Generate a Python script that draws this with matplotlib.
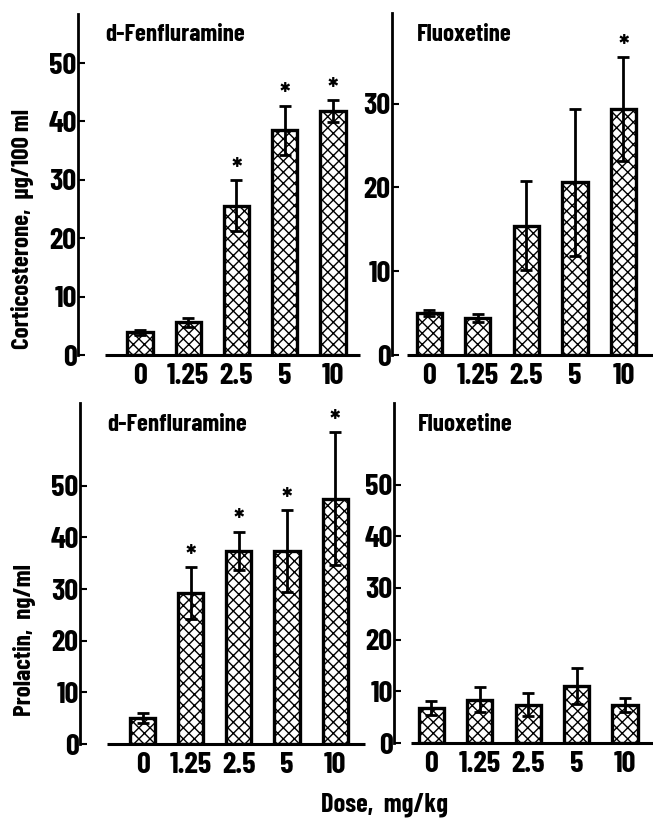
import matplotlib
matplotlib.use("Agg")
import matplotlib.pyplot as plt

plt.rcParams['font.family'] = ['Barlow Condensed', 'Archivo Narrow', 'DejaVu Sans']
plt.rcParams['font.weight'] = 'bold'
plt.rcParams['hatch.linewidth'] = 1.0

doses = ["0", "1.25", "2.5", "5", "10"]

cort_fen = [3.9, 5.6, 25.6, 38.5, 41.8]
cort_fen_err = [0.4, 0.8, 4.4, 4.2, 1.9]
cort_fen_sig = [False, False, True, True, True]

cort_flx = [5.0, 4.4, 15.4, 20.6, 29.3]
cort_flx_err = [0.4, 0.5, 5.3, 8.8, 6.2]
cort_flx_sig = [False, False, False, False, True]

prl_fen = [5.0, 29.2, 37.4, 37.4, 47.5]
prl_fen_err = [1.0, 5.0, 3.7, 7.9, 12.9]
prl_fen_sig = [False, True, True, True, True]

prl_flx = [6.8, 8.4, 7.4, 11.1, 7.4]
prl_flx_err = [1.4, 2.4, 2.2, 3.5, 1.4]
prl_flx_sig = [False, False, False, False, False]

W, H = 653, 821
fig = plt.figure(figsize=(W / 100, H / 100), dpi=100)

def px_axes(x0, x1, ytop, ybot):
    return fig.add_axes([x0 / W, 1 - ybot / H, (x1 - x0) / W, (ybot - ytop) / H])

def panel(ax, vals, errs, sig, title, ymax, yticks, xlim, xline_start, title_xy):
    x = list(range(len(vals)))
    ax.bar(x, vals, width=0.52, color='white', edgecolor='black', linewidth=2.4,
           hatch='xxx', zorder=2)
    ax.errorbar(x, vals, yerr=errs, fmt='none', ecolor='black', elinewidth=2,
                capsize=4, capthick=2, zorder=3)
    for xi, v, e, s in zip(x, vals, errs, sig):
        if s:
            ax.annotate('*', (xi, v + e), xytext=(0, -2), textcoords='offset points',
                        ha='center', va='bottom', fontsize=21, fontweight='bold')
    ax.set_xlim(*xlim)
    ax.set_ylim(0, ymax)
    for sp in ['top', 'right', 'bottom']:
        ax.spines[sp].set_visible(False)
    ax.spines['left'].set_linewidth(2)
    ax.plot([xline_start, xlim[1]], [0, 0], color='black', lw=2.2, clip_on=False,
            zorder=4, solid_capstyle='butt')
    ax.set_yticks(yticks)
    ax.set_yticklabels([str(t) for t in yticks])
    ax.tick_params(axis='y', direction='in', length=5, width=1.5, pad=1,
                   labelsize=22)
    ax.set_xticks(x)
    ax.set_xticklabels(doses)
    ax.tick_params(axis='x', length=0, pad=6, labelsize=22)
    ax.patch.set_alpha(0)
    fig.text(title_xy[0] / W, 1 - title_xy[1] / H, title, fontsize=18,
             fontweight='bold', ha='left', va='center')

ax1 = px_axes(78, 360, 14, 355)
panel(ax1, cort_fen, cort_fen_err, cort_fen_sig, "d-Fenfluramine", 58.4,
      [0, 10, 20, 30, 40, 50], (-1.285, 4.56), -0.725, (105, 35))

ax2 = px_axes(392, 653, 13, 355)
panel(ax2, cort_flx, cort_flx_err, cort_flx_sig, "Fluoxetine", 40.8,
      [0, 10, 20, 30], (-0.77, 4.61), -0.46, (417, 35))

ax3 = px_axes(80, 365, 403, 744)
panel(ax3, prl_fen, prl_fen_err, prl_fen_sig, "d-Fenfluramine", 66.0,
      [0, 10, 20, 30, 40, 50], (-1.30, 4.62), -0.74, (107, 425))

ax4 = px_axes(394, 653, 403, 743)
panel(ax4, prl_flx, prl_flx_err, prl_flx_sig, "Fluoxetine", 65.8,
      [0, 10, 20, 30, 40, 50], (-0.775, 4.58), -0.43, (418, 425))

fig.text(23 / W, 1 - 229 / H, "Corticosterone,  µg/100 ml", rotation=90,
         ha='center', va='center', fontsize=18, fontweight='bold')
fig.text(25 / W, 1 - 640 / H, "Prolactin,  ng/ml", rotation=90,
         ha='center', va='center', fontsize=18, fontweight='bold')
fig.text(384 / W, 1 - 805 / H, "Dose,  mg/kg", ha='center', va='center',
         fontsize=19, fontweight='bold')

fig.savefig("out.png", dpi=100)
